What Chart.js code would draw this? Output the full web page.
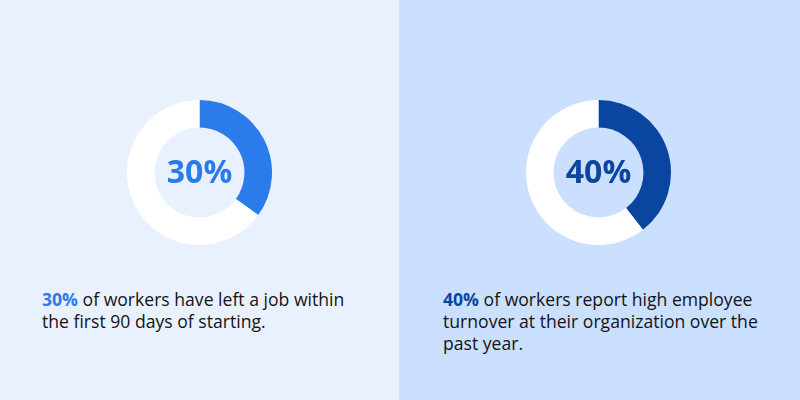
<!DOCTYPE html>
<html>
<head>
<meta charset="utf-8">
<script src="https://cdn.jsdelivr.net/npm/chart.js@4"></script>
<style>
  html, body { margin: 0; padding: 0; }
  body { width: 800px; height: 400px; display: flex; font-family: "Open Sans", Lato, sans-serif; }
  .panel { position: relative; width: 400px; height: 400px; }
  .panel canvas { position: absolute; left: 127px; top: 100px; }
  .caption { position: absolute; top: 288px; font-size: 17.6px; line-height: 22px; color: #141414; }
  .caption b { font-weight: 700; }
</style>
</head>
<body>
<div class="panel" id="p1" style="background:#e9f1fe; width:399px;">
  <canvas id="ourPie1" width="145" height="145"></canvas>
  <div class="caption" style="left:42px;"><b style="color:#2b7bea">30%</b> of workers have left a job within<br>the first 90 days of starting.</div>
</div>
<div class="panel" id="p2" style="background:#cbdffe; width:401px;">
  <canvas id="ourPie2" width="145" height="145"></canvas>
  <div class="caption" style="left:44px;"><b style="color:#0a45a0">40%</b> of workers report high employee<br>turnover at their organization over the<br>past year.</div>
</div>
<script>
// share shown in the centre, and the arc as drawn in the picture
let centreLabels = ['30%', '40%'];
let arcValues1 = [35, 65];
let arcValues2 = [39.5, 60.5];
let arcColors = ['#2b7bea', '#0a45a0'];

let centreText = {
    id: 'centreText',
    afterDraw(chart, args, opts) {
        let ctx = chart.ctx;
        let c = chart.getDatasetMeta(0).data[0];
        ctx.save();
        ctx.font = 'bold 32px "Open Sans", sans-serif';
        ctx.fillStyle = opts.color;
        ctx.textAlign = 'center';
        ctx.textBaseline = 'middle';
        ctx.fillText(opts.text, c.x, c.y + 1);
        ctx.restore();
    }
};

function makePie(el, values, color, label) {
    return new Chart(el, {
        type: 'doughnut',
        data: {
            labels: ['share', 'rest'],
            datasets: [
                {
                    data: values,
                    backgroundColor: [color, '#ffffff'],
                    borderWidth: 0
                }
            ]
        },
        options: {
            responsive: false,
            animation: false,
            cutout: '62%',
            layout: { padding: 0 },
            plugins: {
                legend: { display: false },
                tooltip: { enabled: false },
                centreText: { text: label, color: color }
            }
        },
        plugins: [centreText]
    });
}

document.fonts.load('bold 32px "Open Sans"').then(function () {
    makePie(document.getElementById('ourPie1'), arcValues1, arcColors[0], centreLabels[0]);
    makePie(document.getElementById('ourPie2'), arcValues2, arcColors[1], centreLabels[1]);
});
</script>
</body>
</html>
